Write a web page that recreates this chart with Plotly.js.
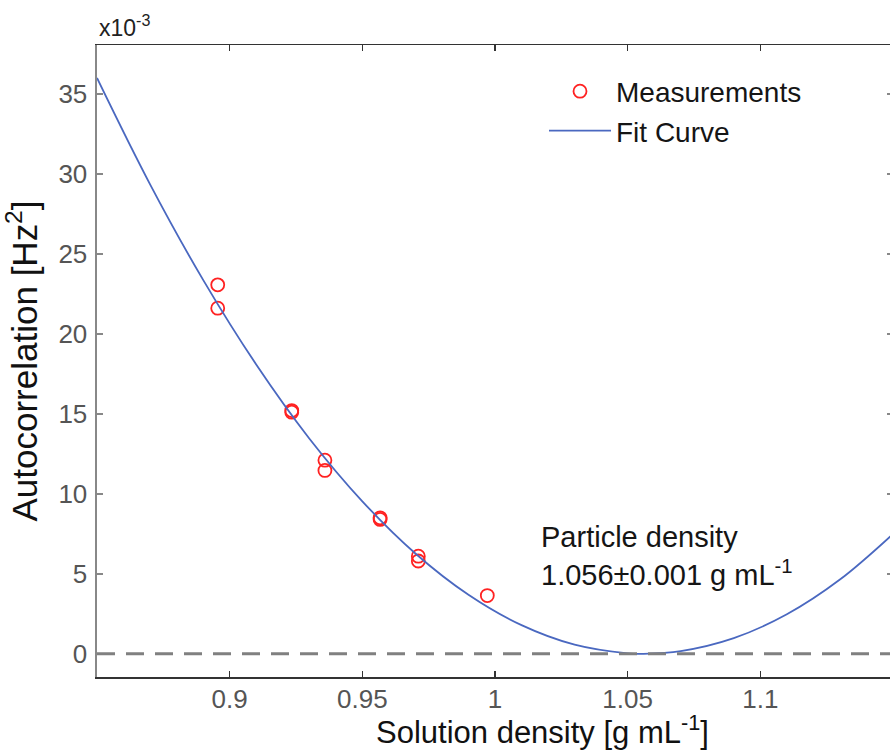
<!DOCTYPE html>
<html>
<head>
<meta charset="utf-8">
<script src="https://cdn.plot.ly/plotly-3.0.1.min.js"></script>
<style>
html, body { margin: 0; padding: 0; overflow: hidden; background: #fff; }
#chart { width: 894px; height: 751px; }
</style>
</head>
<body>
<div id="chart"></div>
<script>
// Measurements (autocorrelation in units of 1e-3 Hz^2)
const density = [0.8955, 0.8955, 0.9234, 0.9234, 0.9359, 0.9359, 0.9567, 0.9567, 0.9711, 0.9711, 0.9971];
const autocorr = [23.06, 21.6, 15.2, 15.1, 12.1, 11.46, 8.5, 8.4, 6.1, 5.8, 3.64];

// Fit curve
const fitX = [0.85, 0.87, 0.89, 0.91, 0.93, 0.95, 0.97, 0.99, 1.01, 1.03, 1.05, 1.056, 1.07, 1.09, 1.11, 1.13, 1.15];
const fitY = [35.99, 29.34, 23.37, 18.08, 13.46, 9.53, 6.27, 3.69, 1.79, 0.57, 0.03, 0.0, 0.17, 0.98, 2.47, 4.64, 7.49];

const xTicks = [0.9, 0.95, 1, 1.05, 1.1];
const yTicks = [0, 5, 10, 15, 20, 25, 30, 35];

const FONT = "Liberation Sans, Arial, Helvetica, sans-serif";

const traces = [
  {
    x: density, y: autocorr, name: "Measurements", type: "scatter", mode: "markers",
    marker: { symbol: "circle-open", size: 13, color: "#ff2222", line: { width: 1.8, color: "#ff2222" } }
  },
  {
    x: fitX, y: fitY, name: "Fit Curve", type: "scatter", mode: "lines",
    line: { color: "#4a68c0", width: 1.8, shape: "spline", smoothing: 1 }
  }
];

const layout = {
  width: 894, height: 751,
  margin: { l: 97, r: 1, t: 45, b: 74 },
  paper_bgcolor: "#fff", plot_bgcolor: "#fff",
  font: { family: FONT, color: "#111" },
  showlegend: true,
  legend: {
    x: (544 - 97) / 796, y: 0.966, xanchor: "left", yanchor: "top",
    font: { size: 28, color: "#151515", family: FONT },
    bgcolor: "rgba(0,0,0,0)", itemwidth: 62, tracegroupgap: 0
  },
  xaxis: {
    range: [0.85, 1.15], tickvals: xTicks, ticktext: xTicks.map(String),
    showline: true, linecolor: "#333", linewidth: 1.5, mirror: "ticks",
    ticks: "inside", ticklen: 6, tickwidth: 1.2, tickcolor: "#333",
    showgrid: false, zeroline: false,
    tickfont: { size: 26, color: "#555", family: FONT },
    ticklabelstandoff: -2
  },
  yaxis: {
    range: [-1.45, 38.05], tickvals: yTicks, ticktext: yTicks.map(String),
    showline: true, linecolor: "#888", linewidth: 2.5, mirror: "ticks",
    ticks: "inside", ticklen: 6, tickwidth: 1.5, tickcolor: "#888",
    showgrid: false, zeroline: false,
    tickfont: { size: 26, color: "#555", family: FONT },
    ticklabelstandoff: 2,
    title: { text: "Autocorrelation [Hz<sup>2</sup>]", font: { size: 35, color: "#111", family: FONT }, standoff: 12 }
  },
  shapes: [
    { type: "line", xref: "paper", x0: 0, x1: 1, yref: "y", y0: 0, y1: 0,
      line: { color: "#808080", width: 3, dash: "18px,11px" }, layer: "above" }
  ],
  annotations: [
    { text: "x10<sup>-3</sup>", xref: "paper", yref: "paper", x: 0, y: 1, xanchor: "left", yanchor: "bottom",
      yshift: 2, showarrow: false, font: { size: 23, color: "#222", family: FONT } },
    { text: "Solution density [g mL<sup>-1</sup>]", xref: "paper", yref: "paper", x: (542 - 97) / 796, y: 0,
      xanchor: "center", yanchor: "top", yshift: -31, showarrow: false,
      font: { size: 31, color: "#111", family: FONT } },
    { text: "Particle density<br>1.056±0.001 g mL<sup>-1</sup>", xref: "paper", yref: "paper",
      x: (539 - 97) / 796, y: (677 - 556) / 632, xanchor: "left", yanchor: "middle", align: "left",
      showarrow: false, font: { size: 29, color: "#151515", family: FONT } }
  ]
};

Plotly.newPlot("chart", traces, layout, { displayModeBar: false, staticPlot: true });
</script>
</body>
</html>
